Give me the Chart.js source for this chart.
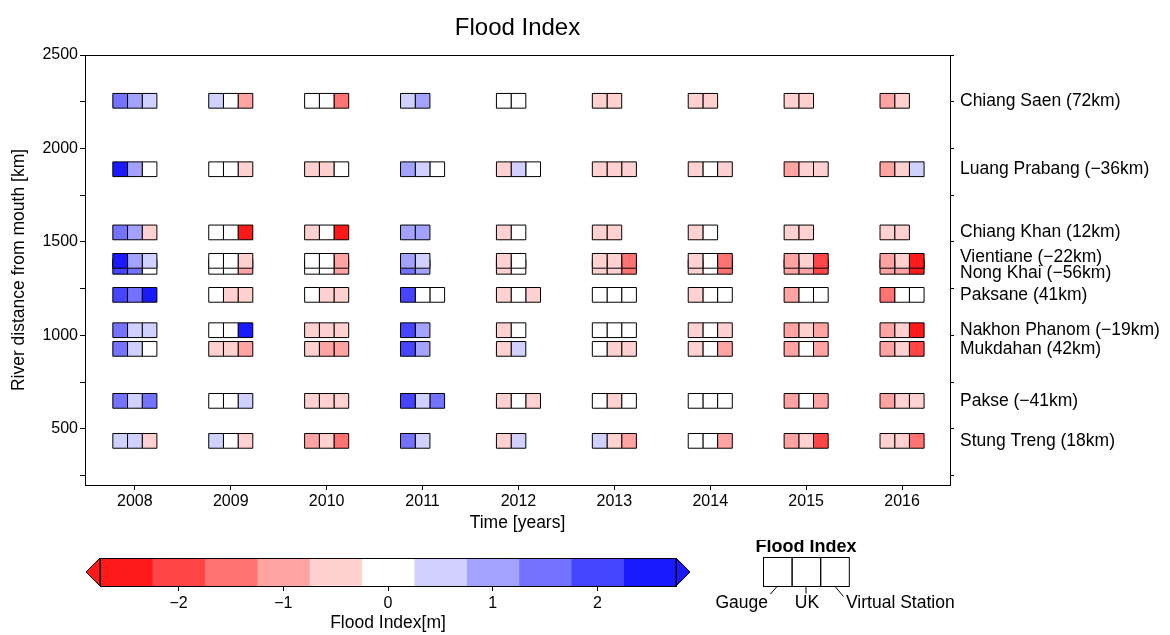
<!DOCTYPE html>
<html>
<head>
<meta charset="utf-8">
<script src="https://cdn.jsdelivr.net/npm/chart.js@4"></script>
<style>
	body { margin: 0; background: #fff; }
	#wrap { position: relative; width: 1170px; height: 635px; }
	canvas { position: absolute; left: 0; }
</style>
</head>
<body>
<div id="wrap">
	<canvas id="flood" width="1170" height="540" style="top:0"></canvas>
	<canvas id="scale" width="1170" height="95" style="top:540px"></canvas>
</div>
<script>
const years = [2008, 2009, 2010, 2011, 2012, 2013, 2014, 2015, 2016]
const stations = ['Chiang Saen (72km)', 'Luang Prabang (\u221236km)', 'Chiang Khan (12km)', 'Vientiane (\u221222km)', 'Nong Khai (\u221256km)',
	'Paksane (41km)', 'Nakhon Phanom (\u221219km)', 'Mukdahan (42km)', 'Pakse (\u221241km)', 'Stung Treng (18km)']
const distances = [2255, 1889, 1551, 1399, 1367, 1217, 1028, 928, 650, 436]

// flood index [m], one row per station, one value per year
const gauge = [
	[1.5, 0.5, 0, 0.5, 0, -0.5, -0.5, -0.5, -1],
	[2.5, 0, -0.5, 1, -0.5, -0.5, -0.5, -1, -1],
	[1.5, 0, -0.5, 1, -0.5, -0.5, -0.5, -0.5, -0.5],
	[2.5, 0, 0, 1, -0.5, -0.5, -0.5, -1, -1],
	[2, 0, 0, 1.5, -0.5, -0.5, -0.5, -1, -1],
	[2, 0, 0, 2, -0.5, 0, -0.5, -1, -1.5],
	[1.5, 0, -0.5, 2, -0.5, 0, -0.5, -1, -1],
	[1.5, -0.5, -0.5, 2, -0.5, 0, -0.5, -1, -1],
	[1.5, 0, -0.5, 2, -0.5, 0, 0, -1, -1],
	[0.5, 0.5, -1, 1.5, -0.5, 0.5, 0, -1, -0.5],
]
const uk = [
	[1, 0, 0, 1, 0, -0.5, -0.5, -0.5, -0.5],
	[1, 0, -0.5, 0.5, 0.5, -0.5, 0, -0.5, -0.5],
	[1, 0, 0, 1, 0, -0.5, 0, -0.5, -0.5],
	[1, 0, 0, 0.5, 0, -0.5, 0, -0.5, -0.5],
	[1.5, 0, 0, 1, 0, -0.5, 0, -1, -1],
	[1.5, -0.5, -0.5, 0, 0, 0, 0, 0, 0],
	[0.5, 0, -0.5, 1, 0, 0, 0, -0.5, -0.5],
	[0.5, -0.5, -1, 1, 0.5, -0.5, 0, 0, -0.5],
	[0.5, 0, -0.5, 0.5, 0, -0.5, 0, 0, -0.5],
	[0.5, 0, -0.5, 0.5, 0.5, -0.5, 0, -0.5, -0.5],
]
const virtualStation = [
	[0.5, -1, -1.5, null, null, null, null, null, null],
	[0, -0.5, 0, 0, 0, -0.5, -0.5, -0.5, 0.5],
	[-0.5, -2.5, -2.5, null, null, null, null, null, null],
	[0.5, -0.5, -1, null, null, -1.5, -1.5, -2, -2.5],
	[0, -1, -1, null, null, -1.5, -1.5, -2, -2.5],
	[2.5, -0.5, -0.5, 0, -0.5, 0, 0, 0, 0],
	[0.5, 2.5, -0.5, null, null, 0, -0.5, -1, -2.5],
	[0, -1, -1, null, null, -0.5, -1, -1, -2],
	[1.5, 0.5, -0.5, 1.5, -0.5, 0, 0, -1, -0.5],
	[-0.5, -0.5, -1.5, null, null, -1, -1, -2, -1.5],
]

const classes = [-2.5, -2, -1.5, -1, -0.5, 0, 0.5, 1, 1.5, 2, 2.5]
const palette = ['#ff1a1a', '#ff4545', '#ff7373', '#ffa3a3', '#ffd1d1', '#ffffff',
	'#d1d1ff', '#a3a3ff', '#7373ff', '#4545ff', '#1a1aff']
const barTicks = [-2, -1, 0, 1, 2]

const FONT = 'Liberation Sans, Arial, Helvetica, sans-serif'
const TICK = 16
const LABEL = 17.5
Chart.defaults.font.family = FONT
Chart.defaults.color = '#000'

function colorFor(v) {
	let i = Math.round(v / 0.5) + 5
	i = Math.max(0, Math.min(palette.length - 1, i))
	return palette[i]
}

const cellW = 0.153
const series = [gauge, uk, virtualStation]

// one scatter dataset per cell column, bottom station first so upper ones sit on top
const datasets = series.map((table, k) => {
	const points = Array()
	for (let s = stations.length - 1; s >= 0; s--) {
		years.map((year, j) => {
			const v = table[s][j]
			if (v === null) return
			points.push({ x: year + (k - 1) * cellW, y: distances[s], v })
		})
	}
	return {
		data: points,
		pointStyle: 'rect',
		pointRadius: 10.4,
		pointBorderWidth: 1,
		pointBorderColor: '#000',
		pointBackgroundColor: (c) => colorFor(c.raw ? c.raw.v : 0),
		showLine: false,
	}
})

const yTicks = Array()
for (let v = 250; v <= 2500; v += 250) yTicks.push(v)

const frame = {
	id: 'frame',
	afterDraw(chart) {
		const { ctx, chartArea: a, scales } = chart
		ctx.save()
		ctx.strokeStyle = '#000'
		ctx.lineWidth = 1
		ctx.strokeRect(a.left + 0.5, a.top + 0.5, a.right - a.left, a.bottom - a.top)
		ctx.fillStyle = '#000'
		ctx.textBaseline = 'middle'
		ctx.textAlign = 'center'
		ctx.font = '24px ' + FONT
		ctx.fillText('Flood Index', (a.left + a.right) / 2, 28)
		ctx.font = LABEL + 'px ' + FONT
		ctx.textAlign = 'left'
		const nudge = { 3: -4, 4: 6 }
		stations.map((name, s) => {
			const y = scales.y.getPixelForValue(distances[s]) + (nudge[s] || 0)
			ctx.fillText(name, a.right + 10, y)
		})
		ctx.restore()
	},
}

new Chart(document.getElementById('flood'), {
	type: 'scatter',
	data: { datasets },
	plugins: [frame],
	options: {
		responsive: false,
		animation: false,
		events: [],
		layout: { padding: { top: 55 } },
		plugins: {
			legend: { display: false },
			tooltip: { enabled: false },
		},
		scales: {
			x: {
				type: 'linear',
				min: 2007.48,
				max: 2016.5,
				afterBuildTicks: (s) => { s.ticks = years.map((v) => ({ value: v })) },
				afterFit: (s) => { s.height = 55 },
				ticks: { callback: (v) => String(v), font: { size: TICK }, color: '#000', padding: 2, maxRotation: 0 },
				grid: { drawOnChartArea: false, tickLength: 5, tickColor: '#000' },
				border: { color: '#000' },
				title: { display: true, text: 'Time [years]', font: { size: LABEL }, color: '#000', padding: { top: 0, bottom: 6 } },
			},
			y: {
				type: 'linear',
				position: 'left',
				min: 200,
				max: 2500,
				afterBuildTicks: (s) => { s.ticks = yTicks.map((v) => ({ value: v })) },
				afterFit: (s) => { s.width = 85 },
				ticks: { callback: (v) => (v % 500 === 0 ? String(v) : ''), font: { size: TICK }, color: '#000', padding: 2, autoSkip: false },
				grid: { drawOnChartArea: false, tickLength: 5, tickColor: '#000' },
				border: { color: '#000' },
				title: { display: true, text: 'River distance from mouth [km]', font: { size: LABEL }, color: '#000', padding: { top: 9, bottom: 0 } },
			},
			y2: {
				type: 'linear',
				position: 'right',
				min: 200,
				max: 2500,
				afterBuildTicks: (s) => { s.ticks = yTicks.map((v) => ({ value: v })) },
				afterFit: (s) => { s.width = 220 },
				ticks: { callback: () => '', autoSkip: false },
				grid: { drawOnChartArea: false, tickLength: 4, tickColor: '#000' },
				border: { color: '#000' },
			},
		},
	},
})

// colour bar end triangles, frame and the cell legend
const barDeco = {
	id: 'barDeco',
	afterDraw(chart) {
		const { ctx, chartArea: a } = chart
		const mid = (a.top + a.bottom) / 2
		ctx.save()
		ctx.strokeStyle = '#000'
		ctx.lineWidth = 1
		ctx.beginPath()
		ctx.moveTo(a.left, a.top)
		ctx.lineTo(a.left - 14, mid)
		ctx.lineTo(a.left, a.bottom)
		ctx.closePath()
		ctx.fillStyle = palette[0]
		ctx.fill()
		ctx.stroke()
		ctx.beginPath()
		ctx.moveTo(a.right, a.top)
		ctx.lineTo(a.right + 14, mid)
		ctx.lineTo(a.right, a.bottom)
		ctx.closePath()
		ctx.fillStyle = palette[palette.length - 1]
		ctx.fill()
		ctx.stroke()
		ctx.strokeRect(a.left + 0.5, a.top + 0.5, a.right - a.left, a.bottom - a.top)

		// legend box
		const bx = 763.5, by = 17.5, cw = 28.6, ch = 29
		ctx.fillStyle = '#000'
		ctx.textAlign = 'center'
		ctx.textBaseline = 'middle'
		ctx.font = 'bold 18px ' + FONT
		ctx.fillText('Flood Index', 806, 7)
		for (let i = 0; i < 3; i++) ctx.strokeRect(bx + i * cw, by, cw, ch)
		ctx.beginPath()
		ctx.moveTo(777, 46.5); ctx.lineTo(770.5, 54)
		ctx.moveTo(806, 46.5); ctx.lineTo(806, 53.5)
		ctx.moveTo(835, 46.5); ctx.lineTo(843.5, 56.5)
		ctx.stroke()
		ctx.font = LABEL + 'px ' + FONT
		ctx.textAlign = 'right'
		ctx.fillText('Gauge', 768, 63)
		ctx.textAlign = 'center'
		ctx.fillText('UK', 807, 63)
		ctx.textAlign = 'left'
		ctx.fillText('Virtual Station', 846, 63)
		ctx.restore()
	},
}

new Chart(document.getElementById('scale'), {
	type: 'bar',
	data: {
		labels: [''],
		datasets: classes.map((c, i) => ({
			data: [[c - 0.25, c + 0.25]],
			backgroundColor: palette[i],
			borderWidth: 0,
			barPercentage: 1,
			categoryPercentage: 1,
			grouped: false,
		})),
	},
	plugins: [barDeco],
	options: {
		indexAxis: 'y',
		responsive: false,
		animation: false,
		events: [],
		layout: { padding: { left: 100, right: 494, top: 18, bottom: 0 } },
		plugins: { legend: { display: false }, tooltip: { enabled: false } },
		scales: {
			x: {
				type: 'linear',
				min: -2.75,
				max: 2.75,
				afterBuildTicks: (s) => { s.ticks = barTicks.map((v) => ({ value: v })) },
				afterFit: (s) => { s.height = 49 },
				ticks: { callback: (v) => (v < 0 ? '\u2212' + Math.abs(v) : String(v)), font: { size: TICK }, color: '#000', padding: 3 },
				grid: { drawOnChartArea: false, tickLength: 5, tickColor: '#000' },
				border: { display: false },
				title: { display: true, text: 'Flood Index[m]', font: { size: LABEL }, color: '#000', padding: { top: 0, bottom: 1 } },
			},
			y: { display: false },
		},
	},
})
</script>
</body>
</html>
